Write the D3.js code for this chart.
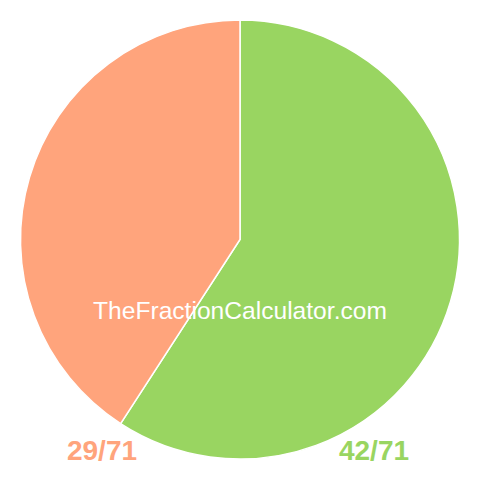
<!DOCTYPE html>
<html><head><meta charset="utf-8">
<script src="https://cdn.jsdelivr.net/npm/d3@7"></script>
<style>html,body{margin:0;padding:0;background:#fff}</style>
</head><body>
<svg id="c" width="480" height="480"></svg>
<script>
const labels = ["42/71", "29/71"];
const values = [42, 29];
const colors = ["#99d561", "#ffa47c"];
const watermark = "TheFractionCalculator.com";

const svg = d3.select("#c");
const cx = 240, cy = 239.5, r = 219.5;
const g = svg.append("g").attr("transform", `translate(${cx},${cy})`);
const pie = d3.pie().sort(null)(values);
const arc = d3.arc().innerRadius(0).outerRadius(r);
g.selectAll("path").data(pie).join("path")
  .attr("d", arc)
  .attr("fill", (d, i) => colors[i])
  .attr("stroke", "#fff").attr("stroke-width", 1.5);

svg.append("text").attr("x", 240).attr("y", 319)
  .attr("text-anchor", "middle")
  .attr("font-family", "Liberation Sans, Arial, sans-serif")
  .attr("font-size", 24.6).attr("fill", "#fff")
  .text(watermark);

const labelX = [374, 102];
svg.selectAll("text.lbl").data(labels).join("text").attr("class", "lbl")
  .attr("x", (d, i) => labelX[i]).attr("y", 460)
  .attr("text-anchor", "middle")
  .attr("font-family", "Liberation Sans, Arial, sans-serif")
  .attr("font-weight", "bold").attr("font-size", 28)
  .attr("fill", (d, i) => colors[i])
  .text(d => d);
</script>
</body></html>
